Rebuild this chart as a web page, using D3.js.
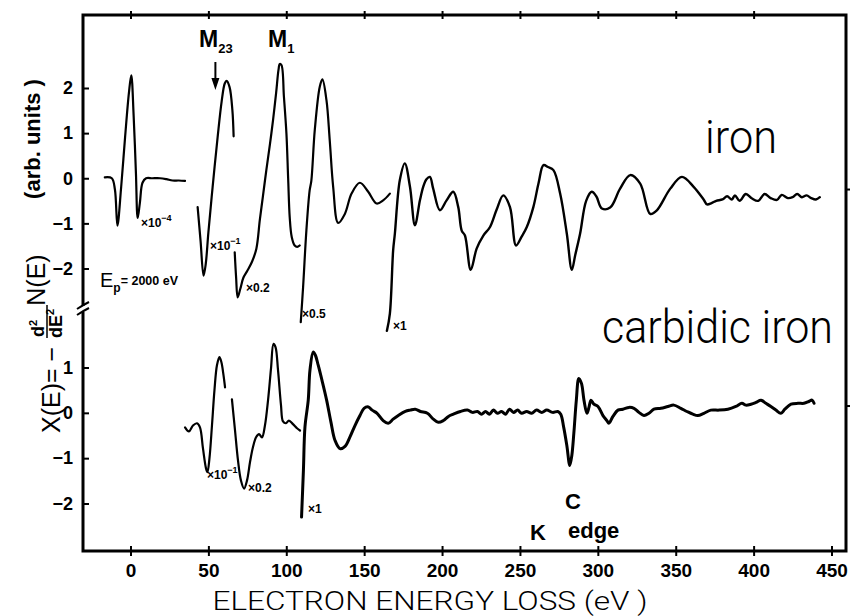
<!DOCTYPE html>
<html>
<head>
<meta charset="utf-8">
<script src="https://cdn.jsdelivr.net/npm/d3@7"></script>
<style>
  body { margin: 0; background: #fff; }
  svg { display: block; }
  .tick text { font-family: "Liberation Sans", Arial, sans-serif; font-weight: bold; fill: #000; }
  .tick line { stroke: #000; stroke-width: 2; }
</style>
</head>
<body>
<script>
// energy loss axis (eV) and the two ordinate scales
const xTicks = [0, 50, 100, 150, 200, 250, 300, 350, 400, 450];
const topTicks = [-2, -1, 0, 1, 2];
const bottomTicks = [-2, -1, 0, 1];

// iron, N(E) -- every piece has its own gain written next to it
const ironElastic = [[-16.5,0.02],[-12,0.0],[-10,-0.25],[-8.4,-1.05],[-6,-0.2],[-3.5,0.9],[-1,1.9],[0.5,2.28],[2,1.4],[3.5,0.1],[4.6,-0.88],[6,-0.55],[7.7,-0.1],[10,0.0],[14,0.0],[19,0.0],[23,-0.02],[27,-0.05],[31,-0.05],[35,-0.06]];
const ironM23 = [[43.1,-0.64],[45,-1.4],[46.9,-2.16],[48.3,-1.9],[50,-1.2],[52.7,-0.2],[55.9,0.9],[58.5,1.7],[60.5,2.1],[61.7,2.16],[63.6,2.02],[65.4,1.51],[66.2,0.93]];
const ironM1 = [[66.9,-1.64],[67.8,-2.2],[68.8,-2.64],[70.5,-2.45],[72.5,-2.2],[75,-2.05],[78,-1.85],[80.8,-1.56],[83,-0.93],[85,-0.4],[87.2,0.18],[89.5,0.75],[91.5,1.29],[93.5,1.9],[95,2.4],[95.8,2.53],[96.9,2.51],[98.5,1.8],[100.1,0.99],[101.2,0.0],[102.2,-0.86],[103.5,-1.3],[105.4,-1.49],[107,-1.52],[108.6,-1.49]];
const ironHalf = [[109.3,-3.19],[110.8,-2.41],[112.9,-1.16],[115,-0.27],[116.1,-0.05],[118.3,1.07],[121.5,2.03],[123.2,2.19],[125.8,1.73],[127.9,0.84],[130.1,-0.19],[133.3,-0.99],[137.6,-0.79],[141.9,-0.34],[147.2,-0.1],[152.6,-0.3],[158,-0.56],[162.2,-0.49],[166.5,-0.34]];
const ironMain = [[164.6,-3.38],[166.5,-3.0],[168.6,-1.6],[169.7,-1.23],[172.9,-0.04],[176.1,0.33],[179.4,-0.19],[182.6,-1.04],[185.8,-0.49],[187.9,-0.19],[190,-0.02],[192.2,0.03],[194.3,-0.23],[198.6,-0.71],[202.9,-0.49],[207.2,-0.3],[210.4,-0.64],[212.6,-1.16],[214.7,-1.27],[218.4,-2.03],[222.2,-1.56],[226.5,-1.27],[230.8,-1.08],[235,-0.7],[239.3,-0.38],[243.6,-0.64],[247.5,-1.49],[251,-1.3],[254.4,-1.08],[258.6,-0.64],[262,-0.1],[265.1,0.29],[268,0.25],[271.5,0.18],[275.8,-0.34],[280.1,-1.23],[283.3,-2.03],[285.5,-1.7],[288.6,-1.23],[292.5,-0.5],[296.1,-0.3],[299,-0.4],[302.6,-0.67],[307.9,-0.65],[314.3,-0.23],[320.8,0.07],[327.2,-0.12],[333.6,-0.79],[337.9,-0.71],[346.5,-0.23],[354,0.03],[361.5,-0.19],[367.9,-0.47],[370.1,-0.58],[373,-0.55],[376,-0.5],[380,-0.47],[383,-0.4],[386,-0.47],[388,-0.38],[391,-0.5],[395,-0.35],[399,-0.45],[403,-0.5],[407,-0.35],[411,-0.44],[415,-0.48],[418,-0.37],[422,-0.44],[425,-0.42],[428,-0.35],[431,-0.42],[434,-0.38],[437,-0.44],[440,-0.47],[442.5,-0.42]];

// carbidic iron, X(E) = -d2N/dE2
const carbM23 = [[35,-0.32],[37.5,-0.41],[40.1,-0.28],[42.7,-0.23],[44.6,-0.32],[46.5,-0.78],[48.5,-1.23],[49.4,-1.31],[50.7,-1.0],[52.3,-0.28],[53.9,0.5],[55.5,1.05],[57.1,1.23],[58.4,1.11],[59.7,0.83],[60.7,0.56]];
const carbM1 = [[65.1,0.3],[67.1,-0.39],[69,-1.05],[70.9,-1.49],[72.9,-1.67],[74.8,-1.49],[76.7,-1.09],[78.6,-0.76],[80.6,-0.54],[82.5,-0.47],[84.4,-0.54],[86.3,-0.28],[88.3,0.28],[90.2,0.98],[91.8,1.52],[93.1,1.45],[94.7,0.94],[96.6,0.17],[97.9,-0.19],[99.8,-0.23],[101.7,-0.17],[104.3,-0.25],[106.9,-0.34],[108.8,-0.39]];
const carbMain = [[109.8,-2.3],[111,-1.27],[112,-0.31],[114.1,0.28],[115.2,0.94],[117.3,1.34],[118.7,1.27],[120.5,1.05],[122.9,0.72],[125.9,0.28],[128.7,-0.21],[131.3,-0.61],[134.5,-0.79],[137.7,-0.74],[140.9,-0.53],[144.1,-0.28],[147.3,-0.06],[149.9,0.1],[152.7,0.13],[155.1,0.06],[158.3,-0.01],[162.2,-0.17],[165.4,-0.23],[168.6,-0.14],[171.9,-0.06],[176.4,0.03],[179.6,0.06],[182.8,0.08],[186.1,0.03],[190.6,-0.01],[194.4,-0.14],[197.6,-0.21],[200.9,-0.17],[204.1,-0.08],[207.3,-0.03],[211.8,0.03],[216.3,0.06],[219.5,0.01],[222.7,0.03],[225.3,-0.03],[227.9,0.03],[230.4,-0.03],[233,0.06],[235.6,-0.01],[238.2,0.03],[240.8,-0.03],[243.3,0.08],[245.9,0.01],[248.5,0.06],[251.1,-0.01],[254.3,0.03],[257.5,-0.01],[260.7,0.06],[264,0.01],[267.2,0.06],[271,0.01],[274.3,0.03],[276.2,-0.03],[278.1,-0.32],[280.1,-0.72],[282,-1.16],[283.3,-0.94],[284.6,-0.45],[286.2,0.28],[287.8,0.76],[289.5,0.65],[291.1,0.28],[293,-0.01],[294.3,0.12],[295.6,0.28],[297.5,0.19],[300.1,0.14],[303.3,-0.06],[305.8,-0.17],[307.1,-0.23],[309.7,-0.08],[312.9,0.06],[316.1,0.08],[320,0.12],[323.2,0.1],[326.4,0.01],[329.6,-0.06],[332.8,-0.01],[336,0.08],[340.5,0.1],[345,0.14],[348.8,0.17],[353.3,0.1],[357.2,0.03],[361,-0.03],[364.2,-0.06],[368.1,-0.01],[372.6,0.06],[377.7,0.06],[383.5,0.08],[388.6,0.14],[392.5,0.21],[395,0.17],[398.3,0.19],[401.5,0.23],[404.7,0.28],[407.9,0.21],[411.1,0.14],[414.3,0.06],[417.5,-0.01],[420.1,0.08],[424,0.19],[428.5,0.21],[432.3,0.21],[435.5,0.25],[437.5,0.28],[438.8,0.21]];

const W = 850, H = 616;
const frame = { left: 83, right: 846, top: 15, bottom: 551 };

const svg = d3.select('body').append('svg').attr('width', W).attr('height', H);
svg.append('rect').attr('width', W).attr('height', H).attr('fill', '#fff');

const x = d3.scaleLinear().domain([0, 450]).range([130.5, 831.5]);
const yTop = d3.scaleLinear().domain([-2, 2]).range([268.5, 88]);
const yBot = d3.scaleLinear().domain([-2, 1]).range([503.5, 367.5]);

// curves
const lineFor = y => d3.line().x(d => x(d[0])).y(d => y(d[1])).curve(d3.curveCatmullRom.alpha(0.5));
const pieces = [
  { data: ironElastic, y: yTop, w: 2.2 },
  { data: ironM23, y: yTop, w: 2.2 },
  { data: ironM1, y: yTop, w: 2.2 },
  { data: ironHalf, y: yTop, w: 2.2 },
  { data: ironMain, y: yTop, w: 2.4 },
  { data: carbM23, y: yBot, w: 2.2 },
  { data: carbM1, y: yBot, w: 2.2 },
  { data: carbMain, y: yBot, w: 3 }
];
svg.append('g').selectAll('path').data(pieces).join('path')
  .attr('d', p => lineFor(p.y)(p.data))
  .attr('fill', 'none').attr('stroke', '#000')
  .attr('stroke-width', p => p.w).attr('stroke-linejoin', 'round').attr('stroke-linecap', 'round');

// frame
svg.append('path')
  .attr('d', `M${frame.left},${frame.top}H${frame.right}V${frame.bottom}H${frame.left}Z`)
  .attr('fill', 'none').attr('stroke', '#000').attr('stroke-width', 3);

// bottom axis, ticks crossing the frame
const gx = svg.append('g').attr('transform', `translate(0,${frame.bottom})`)
  .call(d3.axisBottom(x).tickValues(xTicks).tickSize(5).tickPadding(8).tickFormat(d3.format('d')));
gx.select('.domain').remove();
gx.selectAll('.tick line').attr('y1', -5).attr('y2', 5);
gx.selectAll('.tick text').style('font-size', '19px');

// top frame ticks
const gt = svg.append('g').attr('transform', `translate(0,${frame.top})`)
  .call(d3.axisTop(x).tickValues(xTicks.slice(0, -1)).tickSize(4).tickFormat(''));
gt.select('.domain').remove();
gt.selectAll('.tick line').attr('y1', -4).attr('y2', 4);

// left axes, one per panel
function leftAxis(scale, ticks) {
  const g = svg.append('g').attr('transform', `translate(${frame.left},0)`)
    .call(d3.axisLeft(scale).tickValues(ticks).tickSize(-6).tickPadding(10).tickFormat(d3.format('d')));
  g.select('.domain').remove();
  g.selectAll('.tick text').style('font-size', '18px');
  return g;
}
leftAxis(yTop, topTicks);
leftAxis(yBot, bottomTicks);

// small ticks on the right border
svg.append('g').selectAll('line').data([yTop(-0.25), yBot(0.15)]).join('line')
  .attr('x1', frame.right).attr('x2', frame.right + 5)
  .attr('y1', d => d).attr('y2', d => d)
  .attr('stroke', '#000').attr('stroke-width', 2);

// axis break between the panels
svg.append('rect').attr('x', frame.left - 3).attr('y', 306).attr('width', 6).attr('height', 6).attr('fill', '#fff');
svg.append('g').selectAll('path').data([0, 6]).join('path')
  .attr('d', d => `M77,${309 + d} Q83,${305 + d} 89,${302 + d}`)
  .attr('fill', 'none').attr('stroke', '#000').attr('stroke-width', 2);

const sans = '"Liberation Sans", Arial, sans-serif';
const light = 'Roboto, "Open Sans", sans-serif';

// axis titles
svg.append('text')
  .attr('x', 430).attr('y', 610).attr('text-anchor', 'middle')
  .attr('textLength', 435).attr('lengthAdjust', 'spacingAndGlyphs')
  .style('font-family', light).style('font-weight', 300).style('font-size', '26px')
  .text('ELECTRON  ENERGY  LOSS   (eV )');

const yl = svg.append('g').attr('transform', 'rotate(-90)');
yl.append('text').attr('x', -280).attr('y', 45).attr('text-anchor', 'middle')
  .style('font-family', sans).style('font-size', '25px').text('N(E)');
yl.append('text').attr('x', -139).attr('y', 40).attr('text-anchor', 'middle')
  .style('font-family', sans).style('font-weight', 'bold').style('font-size', '22px').text('(arb. units )');
yl.append('text').attr('x', -433).attr('y', 60).attr('text-anchor', 'start')
  .style('font-family', sans).style('font-size', '25px').text('X(E)= −');
// fraction d²/dE²
const frac = yl.append('g').style('font-family', sans).style('font-weight', 'bold');
const num = frac.append('text').attr('x', -337).attr('y', 44).style('font-size', '18px');
num.append('tspan').text('d');
num.append('tspan').attr('dy', -7).style('font-size', '11px').text('2');
frac.append('line').attr('x1', -338).attr('x2', -305).attr('y1', 47).attr('y2', 47)
  .attr('stroke', '#000').attr('stroke-width', 1.5);
const den = frac.append('text').attr('x', -338).attr('y', 62).style('font-size', '18px');
den.append('tspan').text('dE');
den.append('tspan').attr('dy', -8).style('font-size', '11px').text('2');

// sample names
svg.append('text').attr('x', 705).attr('y', 153)
  .attr('textLength', 72).attr('lengthAdjust', 'spacingAndGlyphs')
  .style('font-family', light).style('font-weight', 300).style('font-size', '46px').text('iron');
svg.append('text').attr('x', 602).attr('y', 343)
  .attr('textLength', 231).attr('lengthAdjust', 'spacingAndGlyphs')
  .style('font-family', light).style('font-weight', 300).style('font-size', '46px').text('carbidic iron');

// gain factors written beside each piece
const gains = [
  { px: 141, py: 227, base: '×10', sup: '−4' },
  { px: 210, py: 250, base: '×10', sup: '−1' },
  { px: 246, py: 292, base: '×0.2' },
  { px: 302, py: 318, base: '×0.5' },
  { px: 393, py: 330, base: '×1' },
  { px: 207, py: 479, base: '×10', sup: '−1' },
  { px: 248, py: 492, base: '×0.2' },
  { px: 308, py: 513, base: '×1' }
];
const gg = svg.append('g').style('font-family', sans).style('font-weight', 'bold').style('font-size', '12px');
gains.forEach(g => {
  const t = gg.append('text').attr('x', g.px).attr('y', g.py);
  t.append('tspan').text(g.base);
  if (g.sup) t.append('tspan').attr('dy', -6).style('font-size', '9px').text(g.sup);
});

// primary energy
const ep = svg.append('text').attr('x', 100).attr('y', 287).style('font-family', sans);
ep.append('tspan').style('font-size', '20px').text('E');
ep.append('tspan').attr('dy', 5).style('font-size', '12px').style('font-weight', 'bold').text('p');
ep.append('tspan').attr('dy', -7).style('font-size', '12.5px').style('font-weight', 'bold').text('= 2000 eV');

// edge labels
const edges = svg.append('g').style('font-family', sans).style('font-weight', 'bold');
const m23 = edges.append('text').attr('x', 199).attr('y', 47);
m23.append('tspan').style('font-size', '23px').text('M');
m23.append('tspan').attr('dy', 6).style('font-size', '13px').text('23');
const m1 = edges.append('text').attr('x', 268).attr('y', 47);
m1.append('tspan').style('font-size', '23px').text('M');
m1.append('tspan').attr('dy', 6).style('font-size', '13px').text('1');
edges.append('text').attr('x', 565).attr('y', 509).style('font-size', '22px').text('C');
edges.append('text').attr('x', 530).attr('y', 540).style('font-size', '22px').text('K');
edges.append('text').attr('x', 568).attr('y', 538).style('font-size', '22px').text('edge');

// arrow marking M23
const ax = x(54.5);
svg.append('line').attr('x1', ax).attr('x2', ax).attr('y1', 62).attr('y2', 80)
  .attr('stroke', '#000').attr('stroke-width', 2);
svg.append('path').attr('d', `M${ax - 4},78L${ax + 4},78L${ax},90Z`).attr('fill', '#000');
</script>
</body>
</html>
